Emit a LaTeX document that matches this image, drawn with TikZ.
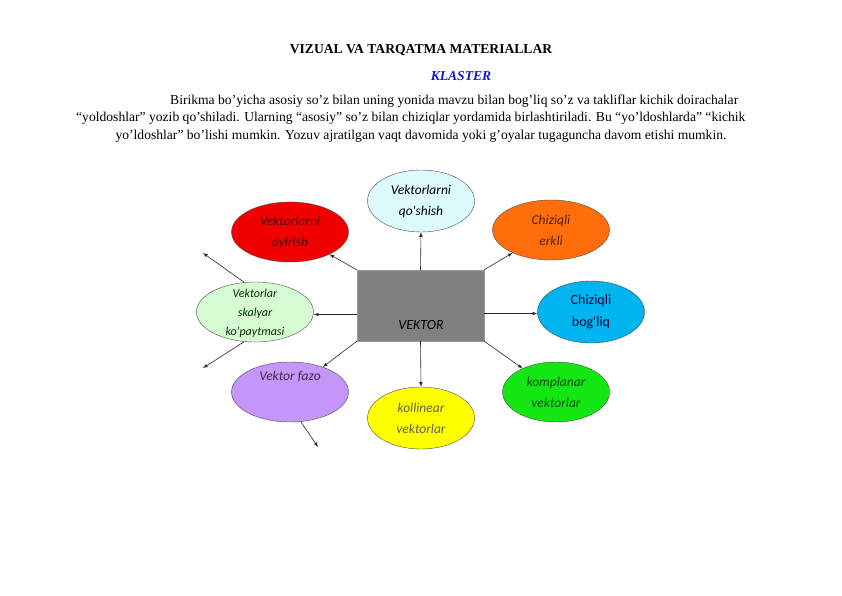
\documentclass[tikz,border=0pt]{standalone}
\usepackage{fontspec}
\setmainfont{Liberation Serif}
\newfontfamily\calib{Carlito}
\usetikzlibrary{shapes.geometric}
\definecolor{cyanlt}{RGB}{220,250,252}
\definecolor{redk}{RGB}{240,0,0}
\definecolor{orangek}{RGB}{255,110,10}
\definecolor{bluek}{RGB}{0,180,240}
\definecolor{greenlt}{RGB}{214,250,210}
\definecolor{purplek}{RGB}{196,150,250}
\definecolor{yellowk}{RGB}{255,255,0}
\definecolor{greenk}{RGB}{20,230,20}
\definecolor{grayk}{RGB}{128,128,128}
\definecolor{klaster}{RGB}{20,20,210}
\tikzset{
  sat/.style={ellipse,draw=black!70,inner sep=0pt,minimum width=117pt,minimum height=60pt,
    align=center,font=\calib\itshape\fontsize{13.5}{21}\selectfont},
  arr/.style={-latex,black!85,semithick},
  para/.style={anchor=base west,inner sep=0pt,font=\fontsize{13.6}{15}\selectfont}
}
\begin{document}
\begin{tikzpicture}[x=1pt,y=-1pt]
\useasboundingbox (0,0) rectangle (842,596);
% header
\node[font=\bfseries\fontsize{13.6}{15}\selectfont] (title) at (421,50) {VIZUAL VA TARQATMA MATERIALLAR};
\node[font=\bfseries\itshape\fontsize{13.6}{15}\selectfont,text=klaster] (klaster) at (461,76) {KLASTER};
\node[para] (l1) at (170,105) {Birikma bo'yicha asosiy so'z bilan uning yonida mavzu bilan bog'liq so'z va takliflar kichik doirachalar};
\node[para] (l2) at (76,122) {“yoldoshlar” yozib qo'shiladi. Ularning “asosiy” so'z bilan chiziqlar yordamida birlashtiriladi. Bu “yo'ldoshlarda” “kichik};
\node[para,anchor=base] (l3) at (421,140) {yo'ldoshlar” bo'lishi mumkin. Yozuv ajratilgan vaqt davomida yoki g'oyalar tugaguncha davom etishi mumkin.};
% cluster
\node[fill=grayk,draw=black!40,minimum width=127pt,minimum height=71pt,inner sep=0pt] (vektor) at (420.5,305.5) {};
\node[font=\calib\itshape\fontsize{14}{16}\selectfont] at (421,325) {VEKTOR};
\node[sat,fill=cyanlt,minimum width=107pt,minimum height=62pt] (qoshish) at (421,201) {Vektorlarni\\qo'shish};
\node[sat,fill=redk,text=black!70!red] (ayirish) at (290,232) {Vektorlarni\\ayirish};
\node[sat,fill=orangek,text=black!70!orange] (erkli) at (551,230) {Chiziqli\\erkli};
\node[sat,fill=bluek,minimum width=107pt,minimum height=62pt,font=\calib\fontsize{14}{22}\selectfont,text=black!80!blue] (bogliq) at (591,312) {Chiziqli\\bog'liq};
\node[sat,fill=greenlt] (skalyar) at (255,312) {};
\begin{scope}
\clip (255,312) ellipse (57.5pt and 29pt);
\node[font=\calib\itshape\fontsize{12}{19}\selectfont,align=center,text=black!80!green] at (255,313) {Vektorlar\\skalyar\\ko'paytmasi};
\end{scope}
\node[sat,fill=purplek,text=black!70!purplek] (fazo) at (290,392) {Vektor fazo\\[12pt]};
\node[sat,fill=yellowk,minimum width=107pt,minimum height=62pt,text=black!70!yellow] (kollinear) at (421,418) {kollinear\\vektorlar};
\node[sat,fill=greenk,minimum width=107pt,text=black!70!green] (komplanar) at (556,392) {komplanar\\vektorlar};
% connectors
\draw[arr] (vektor.north) -- (qoshish.south);
\draw[arr] (vektor.north west) -- (ayirish);
\draw[arr] (vektor.north east) -- (erkli);
\draw[arr] ([yshift=-8pt]vektor.east) -- ([yshift=-8pt]vektor.east -| bogliq.west);
\draw[arr] (vektor.south east) -- (komplanar);
\draw[arr] (vektor.south) -- (kollinear.north);
\draw[arr] (vektor.south west) -- (fazo);
\draw[arr] ([yshift=-9pt]vektor.west) -- ([yshift=-9pt]vektor.west -| skalyar.east);
\coordinate (s1) at (203,253);
\coordinate (s2) at (203,368);
\coordinate (f1) at (318,447);
\draw[arr] (skalyar.110) -- (s1);
\draw[arr] (skalyar.250) -- (s2);
\draw[arr] (fazo.290) -- (f1);
\end{tikzpicture}
\end{document}
